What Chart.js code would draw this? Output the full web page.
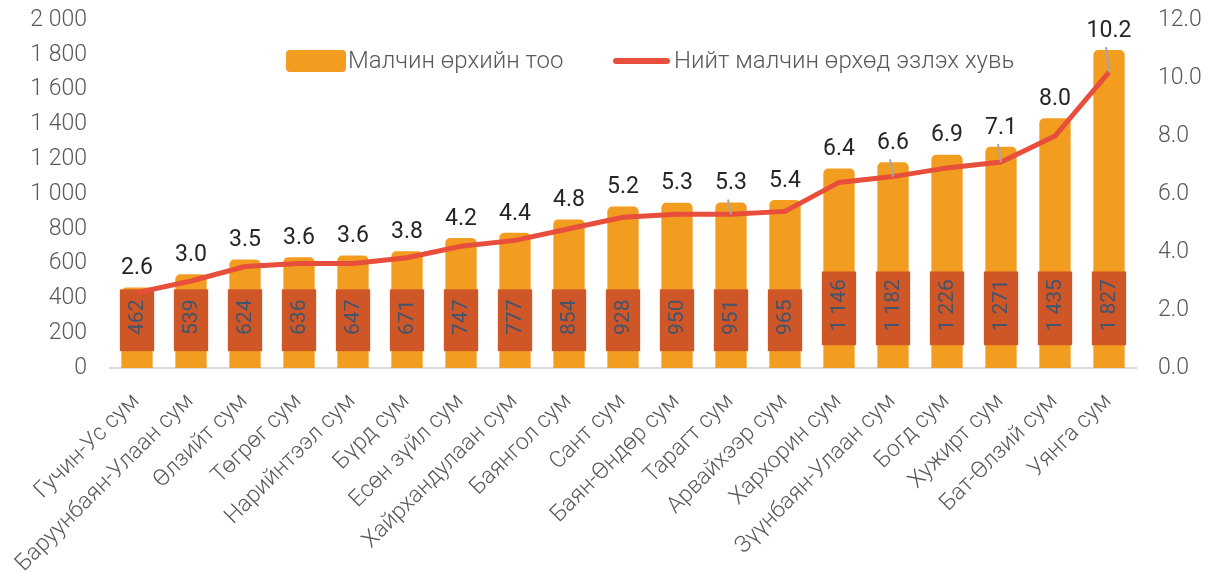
<!DOCTYPE html>
<html>
<head>
<meta charset="utf-8">
<script src="https://cdn.jsdelivr.net/npm/chart.js@4.4.1/dist/chart.umd.min.js"></script>
<style>
  html, body { margin: 0; padding: 0; background: #ffffff; }
  #wrap { width: 1212px; height: 573px; position: relative; }
</style>
</head>
<body>
<div id="wrap"><canvas id="c" width="1212" height="573"></canvas></div>
<script>
const categories = ['Гучин-Ус сум','Баруунбаян-Улаан сум','Өлзийт сум','Төгрөг сум','Нарийнтээл сум','Бүрд сум','Есөн зүйл сум','Хайрхандулаан сум','Баянгол сум','Сант сум','Баян-Өндөр сум','Тарагт сум','Арвайхээр сум','Хархорин сум','Зүүнбаян-Улаан сум','Богд сум','Хужирт сум','Бат-Өлзий сум','Уянга сум'];
const households = [462, 539, 624, 636, 647, 671, 747, 777, 854, 928, 950, 951, 965, 1146, 1182, 1226, 1271, 1435, 1827];
const sharePct = [2.6, 3.0, 3.5, 3.6, 3.6, 3.8, 4.2, 4.4, 4.8, 5.2, 5.3, 5.3, 5.4, 6.4, 6.6, 6.9, 7.1, 8.0, 10.2];
const leaderLineIdx = [11, 14, 16, 18];
const seriesNames = ['Малчин өрхийн тоо', 'Нийт малчин өрхөд эзлэх хувь'];

const BAR = '#F29C20', BOX = '#CF5627', LINE = '#E84E3C';
const FONT = 'Roboto, "Noto Sans", sans-serif';

function fmtThousands(v) {
  return String(Math.round(v)).replace(/\B(?=(\d{3})+(?!\d))/g, ' ');
}

const labelPlugin = {
  id: 'labels',
  afterDatasetDraw(chart, args) {
    if (args.index !== 0) return;
    const ctx = chart.ctx;
    const meta = chart.getDatasetMeta(0);
    const y = chart.scales.y;
    ctx.save();
    ctx.font = '400 21px ' + FONT;
    meta.data.forEach((bar, i) => {
      const txt = fmtThousands(households[i]);
      const tw = ctx.measureText(txt).width;
      const h = 0.7 * tw + 37;
      const w = bar.width + 3;
      const cy = y.getPixelForValue(270) - (h - 61);
      ctx.fillStyle = BOX;
      ctx.fillRect(bar.x - w / 2, cy - h / 2, w, h);
      ctx.save();
      ctx.translate(bar.x + 1, cy - 3);
      ctx.rotate(-Math.PI / 2);
      ctx.fillStyle = '#44546A';
      ctx.textAlign = 'center';
      ctx.textBaseline = 'middle';
      ctx.fillText(txt, 0, 0);
      ctx.restore();
    });
    ctx.restore();
  },
  afterDatasetsDraw(chart) {
    const ctx = chart.ctx;
    const barMeta = chart.getDatasetMeta(0);
    const lineMeta = chart.getDatasetMeta(1);
    const y = chart.scales.y;
    ctx.save();
    ctx.font = '400 23px ' + FONT;
    ctx.textAlign = 'center';
    ctx.textBaseline = 'middle';
    barMeta.data.forEach((bar, i) => {
      const ly = y.getPixelForValue(households[i]) - 19;
      if (leaderLineIdx.includes(i)) {
        const p = lineMeta.data[i];
        ctx.strokeStyle = '#A6A6A6';
        ctx.lineWidth = 2;
        ctx.beginPath();
        ctx.moveTo(bar.x - 3, ly + 16);
        ctx.lineTo(p.x, p.y);
        ctx.stroke();
      }
      ctx.fillStyle = '#262626';
      ctx.fillText(sharePct[i].toFixed(1), bar.x, ly);
    });
    ctx.restore();
  },
  afterDraw(chart) {
    const ctx = chart.ctx;
    ctx.save();
    ctx.fillStyle = BAR;
    ctx.beginPath();
    ctx.roundRect(286, 50, 60, 22, 4);
    ctx.fill();
    ctx.font = '300 24px ' + FONT;
    ctx.fillStyle = '#595959';
    ctx.textBaseline = 'middle';
    ctx.textAlign = 'left';
    ctx.fillText(seriesNames[0], 348, 62);
    ctx.strokeStyle = LINE;
    ctx.lineWidth = 6;
    ctx.lineCap = 'round';
    ctx.beginPath();
    ctx.moveTo(616, 61);
    ctx.lineTo(667, 61);
    ctx.stroke();
    ctx.fillText(seriesNames[1], 674, 62);
    ctx.restore();
  }
};

function fixVertical(s, w) {
  s.width = w;
  s.paddingTop = 0;
  s.paddingBottom = 0;
}

new Chart(document.getElementById('c'), {
  data: {
    labels: categories,
    datasets: [
      {
        type: 'bar',
        label: seriesNames[0],
        data: households,
        backgroundColor: BAR,
        borderRadius: { topLeft: 5, topRight: 5, bottomLeft: 0, bottomRight: 0 },
        borderSkipped: false,
        barPercentage: 0.58,
        categoryPercentage: 1.0,
        yAxisID: 'y',
        order: 2
      },
      {
        type: 'line',
        label: seriesNames[1],
        data: sharePct,
        borderColor: LINE,
        borderWidth: 5,
        pointRadius: 0,
        tension: 0,
        fill: false,
        yAxisID: 'y1',
        order: 1
      }
    ]
  },
  options: {
    responsive: false,
    animation: false,
    devicePixelRatio: 1,
    layout: { padding: { top: 20, left: 0, right: 0, bottom: 0 } },
    plugins: { legend: { display: false }, tooltip: { enabled: false } },
    scales: {
      x: {
        grid: { display: false },
        border: { display: true, color: '#D9D9D9', width: 2 },
        ticks: {
          color: '#595959',
          font: { family: FONT, size: 23, weight: 300 },
          maxRotation: 45, minRotation: 45,
          padding: 12,
          labelOffset: -1,
          autoSkip: false
        },
        afterFit(s) { s.height = 205; s.paddingTop = 0; }
      },
      y: {
        position: 'left',
        min: 0, max: 2000,
        grid: { display: false, drawTicks: false },
        border: { display: false },
        ticks: {
          stepSize: 200,
          color: '#595959',
          font: { family: FONT, size: 23, weight: 300 },
          padding: 23,
          callback: v => fmtThousands(v)
        },
        afterFit(s) { fixVertical(s, 110); }
      },
      y1: {
        position: 'right',
        min: 0, max: 12,
        grid: { display: false, drawTicks: false },
        border: { display: false },
        ticks: {
          stepSize: 2,
          color: '#595959',
          font: { family: FONT, size: 23, weight: 300 },
          padding: 22,
          callback: v => v.toFixed(1)
        },
        afterFit(s) { fixVertical(s, 76); }
      }
    }
  },
  plugins: [labelPlugin]
});
</script>
</body>
</html>
